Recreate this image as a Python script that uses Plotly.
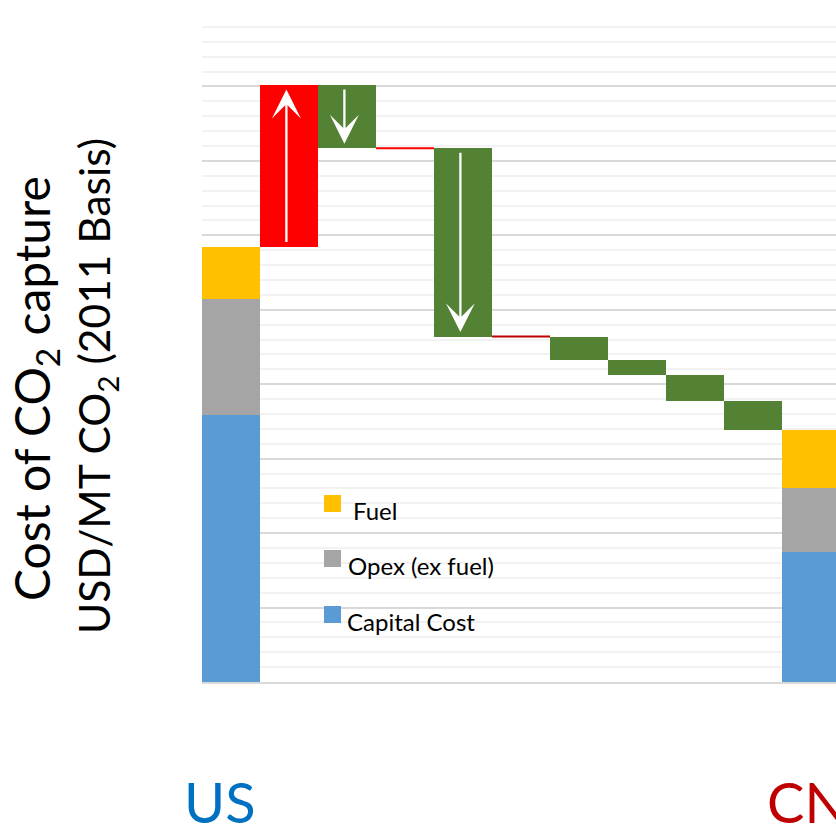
import plotly.graph_objects as go

# ---- data -------------------------------------------------------------
regions = ["US", "CN"]
region_slots = [0, 10]
capital = [35.9, 17.5]
opex = [15.6, 8.6]
fuel = [7.0, 7.8]

step_slots = [1, 2, 3, 4, 5, 6, 7, 8, 9]
step_change = [21.7, -8.5, 0.0, -25.3, 0.0, -3.2, -2.0, -3.5, -3.8]
arrow_slots = [1, 2, 4]
flat_colors = {3: "#FF0000", 5: "#C00000"}

legend_labels = ["Fuel", "Opex (ex fuel)", "Capital Cost"]

# ---- styling ------------------------------------------------------------
C_CAP, C_OPEX, C_FUEL = "#5B9BD5", "#A5A5A5", "#FFC000"
C_UP, C_DOWN = "#FF0000", "#548235"
FONT = "Lato"

W, H = 836, 834
L, R, T, B = 202, 0, 12, 152
SLOT_PX = 58
x_range = [-0.5, -0.5 + (W - L - R) / SLOT_PX]
y_range = [0, 90]

fig = go.Figure()

# stacked regional totals
opex_base = capital
fuel_base = [c + o for c, o in zip(capital, opex)]
for vals, base, col, name in [
    (capital, [0, 0], C_CAP, "Capital Cost"),
    (opex, opex_base, C_OPEX, "Opex (ex fuel)"),
    (fuel, fuel_base, C_FUEL, "Fuel"),
]:
    fig.add_trace(go.Bar(x=region_slots, y=vals, base=base, width=1,
                         marker=dict(color=col, line=dict(width=0)),
                         name=name, showlegend=False))

# floating waterfall steps
running = fuel_base[0] + fuel[0]
bases = []
for c in step_change:
    bases.append(running)
    running += c

up_x, up_y, up_b, dn_x, dn_y, dn_b = [], [], [], [], [], []
for s, c, b in zip(step_slots, step_change, bases):
    if c > 0:
        up_x.append(s); up_y.append(c); up_b.append(b)
    elif c < 0:
        dn_x.append(s); dn_y.append(c); dn_b.append(b)
    else:
        fig.add_trace(go.Scatter(x=[s - 0.5, s + 0.5], y=[b, b], mode="lines",
                                 line=dict(color=flat_colors[s], width=2),
                                 showlegend=False, hoverinfo="skip"))

fig.add_trace(go.Bar(x=up_x, y=up_y, base=up_b, width=1,
                     marker=dict(color=C_UP, line=dict(width=0)), showlegend=False))
fig.add_trace(go.Bar(x=dn_x, y=dn_y, base=dn_b, width=1,
                     marker=dict(color=C_DOWN, line=dict(width=0)), showlegend=False))

annotations = []
# direction arrows inside the big steps
for s, c, b in zip(step_slots, step_change, bases):
    if s not in arrow_slots:
        continue
    sign = 1 if c > 0 else -1
    annotations.append(dict(
        x=s - 0.045, y=b + c - sign * 0.6, ax=s - 0.045, ay=b + sign * 0.4,
        xref="x", yref="y", axref="x", ayref="y", text="", showarrow=True,
        arrowhead=3, arrowsize=2.1, arrowwidth=2.3, arrowcolor="white", standoff=0,
    ))


def px_x(px):
    return (px - L) / (W - L - R)


def px_y(py):
    return (H - B - py) / (H - B - T)


# legend
shapes = []
legend_cols = [C_FUEL, C_OPEX, C_CAP]
sq_top = [495, 550, 606]
text_left = [351, 346, 345]
for lab, col, top, tl in zip(legend_labels, legend_cols, sq_top, text_left):
    shapes.append(dict(type="rect", xref="paper", yref="paper",
                       x0=px_x(324), x1=px_x(341), y0=px_y(top + 17), y1=px_y(top),
                       fillcolor=col, line=dict(width=0)))
    annotations.append(dict(x=px_x(tl), y=px_y(top + 15), xref="paper", yref="paper",
                            text=lab, showarrow=False, xanchor="left", yanchor="middle",
                            font=dict(family=FONT, size=24, color="#000000")))

# axis title, two rotated lines
annotations.append(dict(x=px_x(35), y=px_y(388), xref="paper", yref="paper",
                        text="Cost of CO<sub>2</sub> capture", textangle=-90,
                        showarrow=False, xanchor="center", yanchor="middle",
                        font=dict(family=FONT, size=48, color="#000000")))
annotations.append(dict(x=px_x(96), y=px_y(386), xref="paper", yref="paper",
                        text="USD/MT CO<sub>2</sub> (2011 Basis)", textangle=-90,
                        showarrow=False, xanchor="center", yanchor="middle",
                        font=dict(family=FONT, size=42.5, color="#000000")))

# region labels
annotations.append(dict(x=px_x(220), y=px_y(801), xref="paper", yref="paper",
                        text=regions[0], showarrow=False, xanchor="center", yanchor="middle",
                        font=dict(family=FONT, size=56, color="#0070C0")))
annotations.append(dict(x=px_x(765), y=px_y(801), xref="paper", yref="paper",
                        text=regions[1], showarrow=False, xanchor="left", yanchor="middle",
                        font=dict(family=FONT, size=56, color="#C00000")))

fig.update_layout(
    width=W, height=H,
    margin=dict(l=L, r=R, t=T, b=B, pad=0),
    paper_bgcolor="white", plot_bgcolor="white",
    barmode="overlay", bargap=0,
    showlegend=False,
    annotations=annotations, shapes=shapes,
    xaxis=dict(range=x_range, showgrid=False, zeroline=False, showticklabels=False,
               ticks="", showline=True, linecolor="#D9D9D9", linewidth=2, fixedrange=True),
    yaxis=dict(range=y_range, dtick=10, showgrid=True, gridcolor="#D9D9D9", gridwidth=1.5,
               zeroline=False, showticklabels=False, ticks="", showline=False,
               minor=dict(dtick=2, showgrid=True, gridcolor="#F2F2F2", gridwidth=1.5),
               fixedrange=True),
)

fig.write_html("out.html")
